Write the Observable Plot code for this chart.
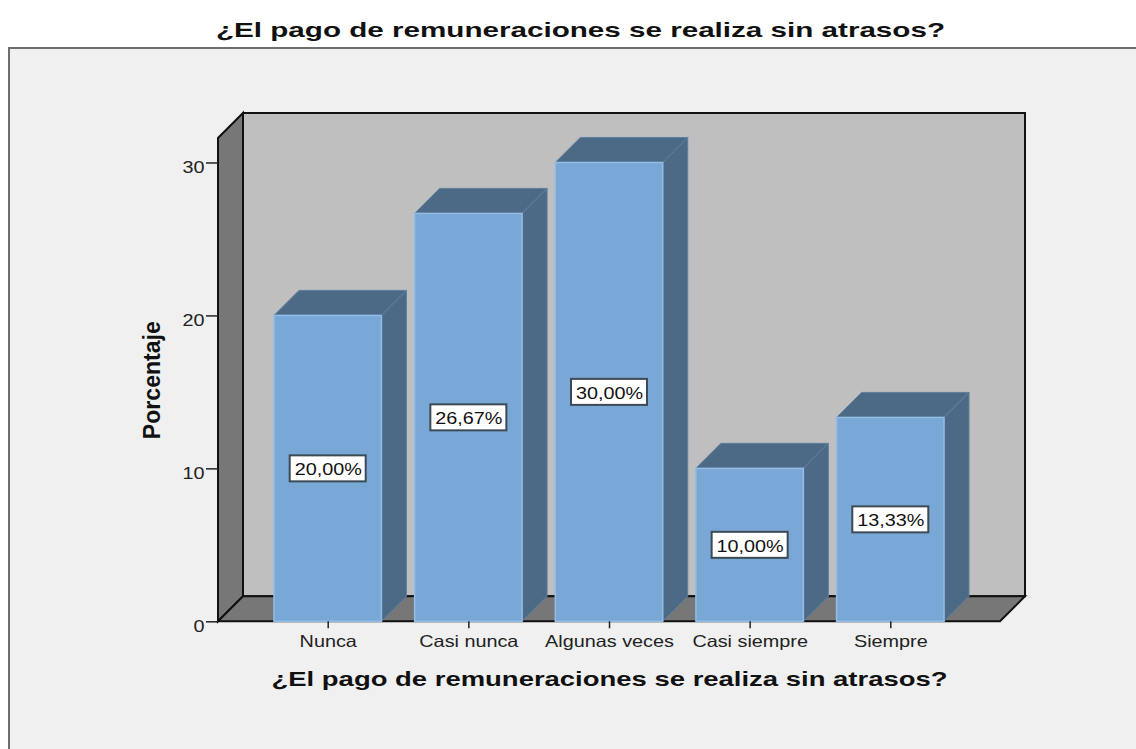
<!DOCTYPE html>
<html>
<head>
<meta charset="utf-8">
<script src="https://cdn.jsdelivr.net/npm/d3@7"></script>
<script src="https://cdn.jsdelivr.net/npm/@observablehq/plot@0.6"></script>
<style>
html,body{margin:0;padding:0;background:#fff;width:1136px;height:749px;overflow:hidden;font-family:"Liberation Sans",Arial,sans-serif}
#panel{position:absolute;left:8px;top:47px;width:1128px;height:702px;background:#f0f0f0;border-top:2px solid #6e6e6e;border-left:2px solid #6e6e6e;box-sizing:border-box}
#title{position:absolute;left:0;top:0;width:1136px;height:48px}
#title svg{display:block}
#chart{position:absolute;left:0;top:48px}
#chart svg{background:transparent;display:block}
</style>
</head>
<body>
<div id="panel"></div>
<div id="title"><svg width="1136" height="48"><text id="t" x="580.5" y="37" text-anchor="middle" font-family="Liberation Sans" font-weight="700" font-size="21" fill="#111">¿El pago de remuneraciones se realiza sin atrasos?</text></svg></div>
<div id="chart"></div>
<script>
const categories = ["Nunca", "Casi nunca", "Algunas veces", "Casi siempre", "Siempre"];
const percentages = [20, 26.67, 30, 10, 13.33];
const valueLabels = ["20,00%", "26,67%", "30,00%", "10,00%", "13,33%"];
const yTicks = [0, 10, 20, 30];
const axisTitle = "¿El pago de remuneraciones se realiza sin atrasos?";
const yTitle = "Porcentaje";

const rows = categories.map((c, i) => ({c, v: percentages[i], label: valueLabels[i]}));
const depth = 25;

const walls = (index, {x, y}, values, dim) => {
  const g = d3.create("svg:g");
  const x0 = dim.marginLeft, x1 = dim.width - dim.marginRight;
  const y0 = y(0), yt = dim.marginTop;
  const poly = (pts, fill, stroke) => g.append("polygon")
    .attr("points", pts.map(p => p.join(",")).join(" "))
    .attr("fill", fill).attr("stroke", stroke).attr("stroke-width", 2).attr("stroke-linejoin", "miter");
  poly([[x0 + depth, yt - depth], [x1 + depth, yt - depth], [x1 + depth, y0 - depth], [x0 + depth, y0 - depth]], "#bfbfbf", "#111");
  poly([[x0, yt], [x0 + depth, yt - depth], [x0 + depth, y0 - depth], [x0, y0]], "#777777", "#111");
  poly([[x0, y0], [x0 + depth, y0 - depth], [x1 + depth, y0 - depth], [x1, y0]], "#777777", "#111");
  return g.node();
};

const faces = (index, {x, y}) => {
  const g = d3.create("svg:g");
  const w = x.bandwidth();
  for (const r of rows) {
    const l = x(r.c), rr = l + w, t = y(r.v), b = y(0);
    const poly = pts => g.append("polygon")
      .attr("points", pts.map(p => p.join(",")).join(" "))
      .attr("fill", "#4c6a86").attr("stroke", "#5d7f9f").attr("stroke-width", 1);
    poly([[l, t], [l + depth, t - depth], [rr + depth, t - depth], [rr, t]]);
    poly([[rr, t], [rr + depth, t - depth], [rr + depth, b - depth], [rr, b]]);
  }
  return g.node();
};

const boxes = (index, {x, y}) => {
  const g = d3.create("svg:g");
  const w = x.bandwidth();
  for (const r of rows) {
    g.append("rect")
      .attr("x", x(r.c) + w / 2 - 38).attr("y", y(r.v / 2) - 13)
      .attr("width", 76).attr("height", 26)
      .attr("fill", "#fff").attr("stroke", "#3c4a56").attr("stroke-width", 2);
  }
  return g.node();
};

const plot = Plot.plot({
  width: 1136,
  height: 701,
  marginLeft: 218,
  marginRight: 136,
  marginTop: 90,
  marginBottom: 127.7,
  style: {background: "transparent", fontFamily: "Liberation Sans", fontSize: "16.5px", color: "#222"},
  x: {domain: categories, paddingInner: 0.236, paddingOuter: 0.398, round: false, label: null},
  y: {domain: [0, 31.6], label: null},
  marks: [
    walls,
    faces,
    Plot.barY(rows, {x: "c", y: "v", fill: "#7aa8d6", stroke: "#93bde6", strokeWidth: 1.5}),
    boxes,
    Plot.text(rows, {x: "c", y: d => d.v / 2, dy: 1, text: "label", fill: "#111", fontSize: 16.5}),
    Plot.axisY({ticks: yTicks, tickSize: 12, tickPadding: 2, stroke: "#222", strokeWidth: 1.5, strokeOpacity: 1, label: yTitle, labelAnchor: "center", labelArrow: "none", labelOffset: 75, fontSize: 16.5, textStroke: "none"}),
    Plot.axisX({tickSize: 7, tickPadding: 6, stroke: "#222", strokeWidth: 1.5, strokeOpacity: 1, label: axisTitle, labelAnchor: "center", labelArrow: "none", labelOffset: 64, fontSize: 16.5})
  ]
});
document.getElementById("chart").append(plot);

const setLen = (el, n) => { el.setAttribute("textLength", n); el.setAttribute("lengthAdjust", "spacingAndGlyphs"); };
setLen(document.getElementById("t"), 729);
plot.querySelectorAll("text").forEach(el => {
  const s = el.textContent;
  if (s === axisTitle) {
    el.style.fontWeight = 700; el.style.fontSize = "21px"; el.style.fill = "#111";
    setLen(el, 676);
  } else if (s === yTitle) {
    el.style.fontWeight = 700; el.style.fontSize = "23px"; el.style.fill = "#111";
    setLen(el, 118);
  } else {
    setLen(el, el.getComputedTextLength() * 1.2);
    if (yTicks.includes(+s)) el.setAttribute("dy", "0.29em");
  }
});
</script>
</body>
</html>
